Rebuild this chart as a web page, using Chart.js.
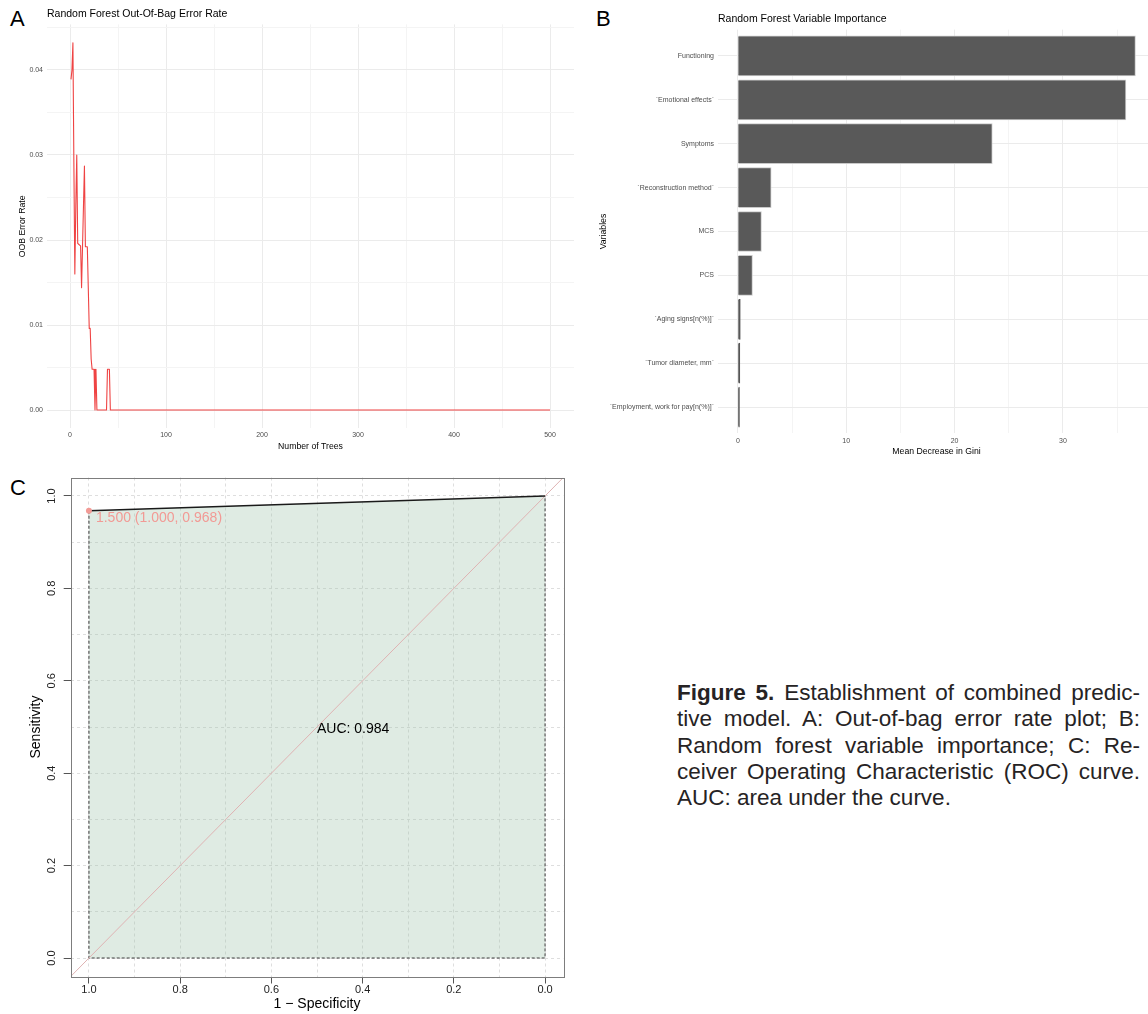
<!DOCTYPE html>
<html>
<head>
<meta charset="utf-8">
<title>Figure 5</title>
<script src="https://cdn.jsdelivr.net/npm/chart.js@4.4.1/dist/chart.umd.min.js"></script>
<style>
  html, body { margin: 0; padding: 0; background: #fff; width: 1148px; height: 1014px; overflow: hidden; }
  canvas { position: absolute; display: block; }
  .tag { position: absolute; font: 22px "Liberation Sans", Arial, sans-serif; color: #000; line-height: 1; }
  #caption { position: absolute; left: 677px; top: 680px; width: 463px;
             font: 22.5px "Liberation Sans", Arial, sans-serif; line-height: 26.3px; color: #262324; }
  #caption .j { display: block; text-align: justify; text-align-last: justify; }
  #caption b { font-weight: bold; }
</style>
</head>
<body>
<div class="tag" style="left:10px;top:8px">A</div>
<div class="tag" style="left:596px;top:8px">B</div>
<div class="tag" style="left:10px;top:477px">C</div>

<canvas id="oob" width="590" height="460" style="left:0;top:0"></canvas>
<canvas id="imp" width="570" height="460" style="left:590px;top:0"></canvas>
<canvas id="roc" width="590" height="549" style="left:0;top:465px"></canvas>

<div id="caption">
  <span class="j"><b>Figure 5.</b> Establishment of combined predic-</span>
  <span class="j">tive model. A: Out-of-bag error rate plot; B:</span>
  <span class="j">Random forest variable importance; C: Re-</span>
  <span class="j">ceiver Operating Characteristic (ROC) curve.</span>
  <span>AUC: area under the curve.</span>
</div>

<script>
// ---------- A: out-of-bag error rate by number of trees ----------
const oobTitle = 'Random Forest Out-Of-Bag Error Rate';
const oobTrees = [1, 2, 3, 4, 5, 6, 7, 8, 9, 10, 11, 12, 13, 14, 15, 16, 17, 18, 19, 20,
                  21, 22, 23, 24, 25, 26, 27, 28, 38, 39, 40, 41, 42, 500];
const oobError = [0.0389, 0.0400, 0.0432, 0.0290, 0.0160, 0.0240, 0.0300, 0.0196, 0.0195, 0.0194,
                  0.0193, 0.0144, 0.0192, 0.0240, 0.0287, 0.0192, 0.0192, 0.0192, 0.0144, 0.0096,
                  0.0096, 0.0060, 0.0048, 0.0048, 0.0048, 0.0000, 0.0048, 0.0000, 0.0000, 0.0048,
                  0.0048, 0.0048, 0.0000, 0.0000];
const oobXMajor = [0, 100, 200, 300, 400, 500];
const oobXMinor = [50, 150, 250, 350, 450];
const oobYMajor = [0, 0.01, 0.02, 0.03, 0.04];
const oobYMinor = [0.005, 0.015, 0.025, 0.035, 0.045];

// ---------- B: variable importance ----------
const impTitle = 'Random Forest Variable Importance';
const variables = ['Functioning', '`Emotional effects`', 'Symptoms', '`Reconstruction method`',
                   'MCS', 'PCS', '`Aging signs[n(%)]`', '`Tumor diameter, mm`',
                   '`Employment, work for pay[n(%)]`'];
const giniDecrease = [36.66, 35.78, 23.45, 3.05, 2.15, 1.32, 0.20, 0.16, 0.12];
const giniMajor = [0, 10, 20, 30];
const giniMinor = [5, 15, 25, 35];

// ---------- C: ROC curve ----------
const rocSpecificity = [1.0, 0.0];
const rocSensitivity = [0.968, 1.0];
const bestThreshold = 1.5;
const bestSpecificity = 1.0;
const bestSensitivity = 0.968;
const aucValue = 0.984;
const rocGrid = [0, 0.1, 0.2, 0.3, 0.4, 0.5, 0.6, 0.7, 0.8, 0.9, 1.0];
const rocLabelled = [0, 0.2, 0.4, 0.6, 0.8, 1.0];

// ---------- shared ----------
const FONT = '"Liberation Sans", Arial, Helvetica, sans-serif';
Chart.defaults.font.family = FONT;
Chart.defaults.animation = false;
Chart.defaults.responsive = false;
Chart.defaults.plugins.legend.display = false;
Chart.defaults.plugins.tooltip.enabled = false;

const GRID_MAJOR = '#ebebeb';
const GRID_MINOR = '#f4f4f4';
const TICK_TEXT = '#4d4d4d';

const isIn = (list, v) => list.some(m => Math.abs(m - v) < 1e-9);
const setTicks = (values) => (scale) => { scale.ticks = values.slice().sort((a, b) => a - b).map(v => ({ value: v })); };

// title written at the left edge of the plotting panel
const panelTitle = {
  id: 'panelTitle',
  afterDraw(chart, args, opts) {
    const { ctx, chartArea } = chart;
    ctx.save();
    ctx.font = opts.font;
    ctx.fillStyle = opts.color;
    ctx.textAlign = 'left';
    ctx.textBaseline = 'middle';
    ctx.fillText(opts.text, chartArea.left, opts.y);
    ctx.restore();
  }
};

// ---------- A ----------
new Chart(document.getElementById('oob'), {
  type: 'line',
  data: {
    datasets: [{
      data: oobTrees.map((t, i) => ({ x: t, y: oobError[i] })),
      borderColor: '#ef4343',
      borderWidth: 1.1,
      borderJoinStyle: 'round',
      pointRadius: 0,
      fill: false,
      tension: 0
    }]
  },
  options: {
    layout: { padding: { top: 24.4, right: 16, left: 0, bottom: 0 } },
    plugins: {
      panelTitle: { text: oobTitle, y: 14, font: '10.5px ' + FONT, color: '#000' }
    },
    scales: {
      x: {
        type: 'linear', min: -24, max: 525,
        afterBuildTicks: setTicks(oobXMajor.concat(oobXMinor)),
        afterFit: s => { s.height = 31.6; },
        border: { display: false },
        grid: { drawTicks: false, color: c => isIn(oobXMajor, c.tick.value) ? GRID_MAJOR : GRID_MINOR },
        ticks: { autoSkip: false, maxRotation: 0, padding: 2.4, color: TICK_TEXT, font: { size: 7 },
                 callback: v => isIn(oobXMajor, v) ? String(v) : '' },
        title: { display: true, text: 'Number of Trees', color: '#000', font: { size: 8.7 },
                 padding: { top: 0, bottom: 7.8 } }
      },
      y: {
        type: 'linear', min: -0.00216, max: 0.04536,
        afterBuildTicks: setTicks(oobYMajor.concat(oobYMinor)),
        afterFit: s => { s.width = 47; },
        border: { display: false },
        grid: { drawTicks: false, color: c => isIn(oobYMajor, c.tick.value) ? GRID_MAJOR : GRID_MINOR },
        ticks: { autoSkip: false, padding: 4, color: TICK_TEXT, font: { size: 7 },
                 callback: v => isIn(oobYMajor, v) ? v.toFixed(2) : '' },
        title: { display: true, text: 'OOB Error Rate', color: '#000', font: { size: 8.7 },
                 padding: { top: 17.8, bottom: 0 } }
      }
    }
  },
  plugins: [panelTitle]
});

// ---------- B ----------
new Chart(document.getElementById('imp'), {
  type: 'bar',
  data: {
    datasets: [{
      data: variables.map((name, i) => ({ x: giniDecrease[i], y: i })),
      backgroundColor: '#595959',
      // very thin bars keep the fill colour so the outline does not wash them out
      borderColor: c => (c.raw && c.raw.x < 1) ? '#555555' : '#c9c9c9',
      borderWidth: 1,
      inflateAmount: 0.6,
      barPercentage: 0.9,
      categoryPercentage: 1.0
    }]
  },
  options: {
    indexAxis: 'y',
    layout: { padding: { top: 29.6, right: 5, left: 0, bottom: 0 } },
    plugins: {
      panelTitle: { text: impTitle, y: 19, font: '10.5px ' + FONT, color: '#000' }
    },
    scales: {
      x: {
        type: 'linear', min: -1.833, max: 38.49,
        afterBuildTicks: setTicks(giniMajor.concat(giniMinor)),
        afterFit: s => { s.height = 26.6; },
        border: { display: false },
        grid: { drawTicks: false, color: c => isIn(giniMajor, c.tick.value) ? GRID_MAJOR : GRID_MINOR },
        ticks: { autoSkip: false, maxRotation: 0, padding: 3.4, color: TICK_TEXT, font: { size: 7 },
                 callback: v => isIn(giniMajor, v) ? String(v) : '' },
        title: { display: true, text: 'Mean Decrease in Gini', color: '#000', font: { size: 8.7 },
                 padding: { top: 0, bottom: 2.8 } }
      },
      y: {
        type: 'linear', min: -0.6, max: variables.length - 1 + 0.6, reverse: true,
        offset: false,
        afterBuildTicks: setTicks(variables.map((n, i) => i)),
        afterFit: s => { s.width = 128; },
        border: { display: false },
        grid: { drawTicks: false, offset: false, color: GRID_MAJOR },
        ticks: { autoSkip: false, padding: 4, color: TICK_TEXT, font: { size: 7 },
                 callback: v => variables[Math.round(v)] },
        title: { display: true, text: 'Variables', color: '#000', font: { size: 8.7 },
                 padding: { top: 8.1, bottom: 0 } }
      }
    }
  },
  plugins: [panelTitle]
});

// ---------- C ----------
const rocNotes = {
  id: 'rocNotes',
  afterDatasetsDraw(chart) {
    const { ctx, chartArea: a, scales: { x, y } } = chart;
    ctx.save();
    ctx.font = '14px ' + FONT;
    ctx.textAlign = 'left';
    ctx.textBaseline = 'middle';
    ctx.fillStyle = '#f29a95';
    const thrText = bestThreshold.toFixed(3) + ' (' + bestSpecificity.toFixed(3) + ', ' + bestSensitivity.toFixed(3) + ')';
    ctx.fillText(thrText, x.getPixelForValue(bestSpecificity) + 7, y.getPixelForValue(bestSensitivity) + 7);
    ctx.fillStyle = '#000';
    ctx.fillText('AUC: ' + aucValue.toFixed(3), x.getPixelForValue(0.5), y.getPixelForValue(0.5) + 2);
    ctx.strokeStyle = '#7d7d7d';
    ctx.lineWidth = 1;
    ctx.strokeRect(Math.round(a.left) + 0.5, Math.round(a.top) + 0.5, Math.round(a.width), Math.round(a.height));
    ctx.restore();
  }
};

const lastIdx = rocSpecificity.length - 1;
new Chart(document.getElementById('roc'), {
  type: 'line',
  data: {
    datasets: [
      { // best threshold point
        data: [{ x: bestSpecificity, y: bestSensitivity }],
        showLine: false, pointRadius: 3, pointBorderWidth: 0,
        pointBackgroundColor: '#f29a95', borderColor: '#f29a95'
      },
      { // ROC curve
        data: rocSpecificity.map((s, i) => ({ x: s, y: rocSensitivity[i] })),
        borderColor: '#1a1a1a', borderWidth: 1.6, pointRadius: 0, fill: false
      },
      { // chance line across the whole plot region
        data: [{ x: 1.04, y: -0.04 }, { x: -0.04, y: 1.04 }],
        borderColor: '#dfb3b3', borderWidth: 1, pointRadius: 0, fill: false
      },
      { // dashed outline of the area under the curve
        data: [{ x: rocSpecificity[0], y: rocSensitivity[0] }, { x: rocSpecificity[0], y: 0 },
               { x: rocSpecificity[lastIdx], y: 0 }, { x: rocSpecificity[lastIdx], y: rocSensitivity[lastIdx] }],
        borderColor: '#3a3a3a', borderWidth: 1, borderDash: [3, 2], pointRadius: 0, fill: false
      },
      { // shaded area under the curve
        data: rocSpecificity.map((s, i) => ({ x: s, y: rocSensitivity[i] })),
        borderWidth: 0, pointRadius: 0, fill: 'origin',
        backgroundColor: 'rgba(160,196,174,0.34)'
      }
    ]
  },
  options: {
    layout: { padding: { top: 12.5, right: 26.7, left: 0, bottom: 0 } },
    scales: {
      x: {
        type: 'linear', min: -0.04, max: 1.04, reverse: true,
        afterBuildTicks: setTicks(rocGrid),
        afterFit: s => { s.height = 37.5; },
        border: { display: false, dash: [3, 3] },
        grid: { color: '#dedede', lineWidth: 1, drawTicks: true, tickLength: 7, tickWidth: 1,
                tickBorderDash: [], tickColor: c => isIn(rocLabelled, c.tick.value) ? '#555' : 'rgba(0,0,0,0)' },
        ticks: { autoSkip: false, maxRotation: 0, padding: 0, color: '#222', font: { size: 11 },
                 callback: v => isIn(rocLabelled, v) ? v.toFixed(1) : '' },
        title: { display: true, text: '1 \u2212 Specificity', color: '#000', font: { size: 14 },
                 padding: { top: 0, bottom: 1.6 } }
      },
      y: {
        type: 'linear', min: -0.04, max: 1.04,
        afterBuildTicks: setTicks(rocGrid),
        afterFit: s => { s.width = 70.7; },
        border: { display: false, dash: [3, 3] },
        grid: { color: '#dedede', lineWidth: 1, drawTicks: true, tickLength: 7, tickWidth: 1,
                tickBorderDash: [], tickColor: c => isIn(rocLabelled, c.tick.value) ? '#555' : 'rgba(0,0,0,0)' },
        ticks: { autoSkip: false, minRotation: 90, maxRotation: 90, crossAlign: 'center', padding: 4,
                 color: '#222', font: { size: 11 },
                 callback: v => isIn(rocLabelled, v) ? v.toFixed(1) : '' },
        title: { display: true, text: 'Sensitivity', color: '#000', font: { size: 14 },
                 padding: { top: 27.6, bottom: 0 } }
      }
    }
  },
  plugins: [rocNotes]
});
</script>
</body>
</html>
